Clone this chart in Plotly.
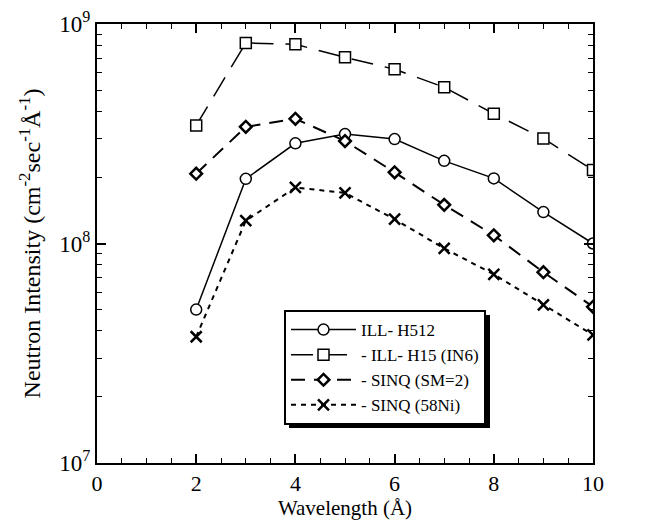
import plotly.graph_objects as go

wavelength = [2, 3, 4, 5, 6, 7, 8, 9, 10]
ill_h512 = [5.0e7, 1.97e8, 2.86e8, 3.15e8, 2.99e8, 2.38e8, 1.98e8, 1.39e8, 1.0e8]
ill_h15 = [3.45e8, 8.2e8, 8.08e8, 7.05e8, 6.22e8, 5.15e8, 3.9e8, 3.01e8, 2.16e8]
sinq_sm2 = [2.08e8, 3.4e8, 3.7e8, 2.93e8, 2.11e8, 1.5e8, 1.09e8, 7.4e7, 5.15e7]
sinq_58ni = [3.76e7, 1.27e8, 1.8e8, 1.7e8, 1.29e8, 9.5e7, 7.24e7, 5.25e7, 3.83e7]

names = ["ILL- H512", "- ILL- H15 (IN6)", "- SINQ (SM=2)", "- SINQ (58Ni)"]
y_major = [1e7, 1e8, 1e9]
y_major_text = ["10<sup>7</sup>", "10<sup>8</sup>", "10<sup>9</sup>"]
y_minor = [m * 10 ** e for e in (7, 8) for m in range(2, 10)]

FONT = "Liberation Serif"

# the page body adds an 8px margin, so the figure is 8px smaller and shifted
PAD = 8
PL, PR, PT, PB = 97, 593, 24, 463  # plot area in page pixels


def px(x):
    return (x - PL) / (PR - PL)


def py(y):
    return (PB - y) / (PB - PT)


fig = go.Figure()
fig.add_trace(go.Scatter(
    x=wavelength, y=ill_h512, name=names[0], mode="lines+markers",
    line=dict(color="black", width=1.5, dash="solid"),
    marker=dict(symbol="circle", size=11, color="white", line=dict(color="black", width=1.5))))
fig.add_trace(go.Scatter(
    x=wavelength, y=ill_h15, name=names[1], mode="lines+markers",
    line=dict(color="black", width=1.5, dash="22px,12px"),
    marker=dict(symbol="square", size=11, color="white", line=dict(color="black", width=1.5))))
fig.add_trace(go.Scatter(
    x=wavelength, y=sinq_sm2, name=names[2], mode="lines+markers",
    line=dict(color="black", width=2, dash="14px,9px"),
    marker=dict(symbol="diamond", size=9, color="white", line=dict(color="black", width=2.5))))
fig.add_trace(go.Scatter(
    x=wavelength, y=sinq_58ni, name=names[3], mode="lines+markers",
    line=dict(color="black", width=2, dash="5px,5px"),
    marker=dict(symbol="x-thin", size=11, color="black", line=dict(color="black", width=2.5))))

# legend drop shadow (offset black box behind the legend)
fig.add_shape(type="rect", xref="paper", yref="paper",
              x0=px(289), x1=px(490), y0=py(428), y1=py(315),
              fillcolor="black", line=dict(width=0), layer="above")

fig.update_layout(
    width=660 - PAD, height=526 - PAD,
    margin=dict(l=PL - PAD, r=660 - PR, t=PT - PAD, b=526 - PB),
    paper_bgcolor="white", plot_bgcolor="white",
    font=dict(family=FONT, color="black", size=20),
    showlegend=True,
    legend=dict(x=px(284), y=py(310), xanchor="left", yanchor="top",
                bgcolor="white", bordercolor="black", borderwidth=2,
                font=dict(family=FONT, size=17), tracegroupgap=0, itemwidth=65),
)

fig.update_xaxes(
    range=[0, 10], dtick=2, tick0=0, automargin=False,
    showline=True, linecolor="black", linewidth=2, mirror="ticks",
    ticks="inside", ticklen=9, tickwidth=1.5, tickcolor="black",
    minor=dict(dtick=0.5, ticks="inside", ticklen=5, tickwidth=1, tickcolor="black"),
    showgrid=False, zeroline=False,
    tickfont=dict(family=FONT, size=22),
    title=dict(text="Wavelength (Å)", font=dict(family=FONT, size=21), standoff=0),
)
fig.update_yaxes(
    type="log", range=[7, 9], automargin=False,
    tickvals=y_major, ticktext=y_major_text,
    showline=True, linecolor="black", linewidth=2, mirror="ticks",
    ticks="inside", ticklen=9, tickwidth=1.5, tickcolor="black",
    minor=dict(tickvals=y_minor, ticks="inside", ticklen=5, tickwidth=1, tickcolor="black"),
    showgrid=False, zeroline=False,
    tickfont=dict(family=FONT, size=23),
    title=dict(text="Neutron Intensity (cm<sup>-2</sup>sec<sup>-1</sup>Å<sup>-1</sup>)",
               font=dict(family=FONT, size=24), standoff=12),
)

fig.write_html("out.html")
